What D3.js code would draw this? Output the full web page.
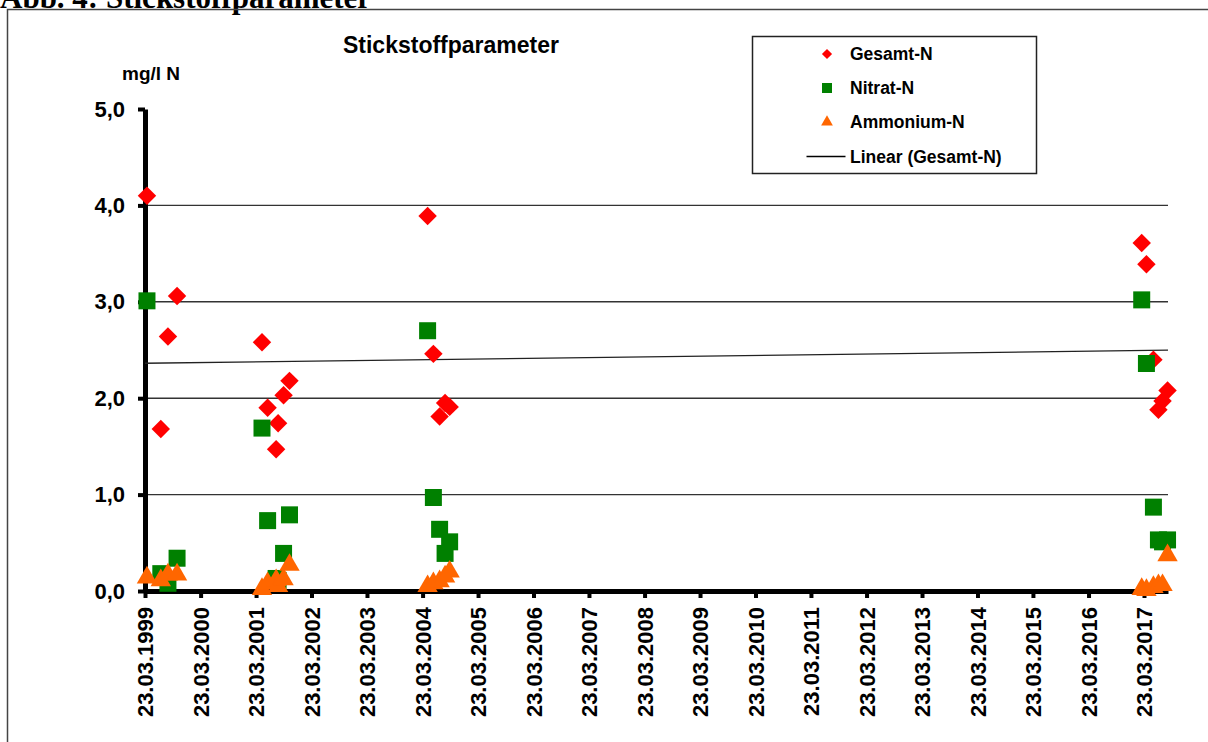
<!DOCTYPE html>
<html>
<head>
<meta charset="utf-8">
<script src="https://cdn.jsdelivr.net/npm/d3@7"></script>
<style>
  body { margin: 0; background: #fff; }
  svg text { font-family: "Liberation Sans", Arial, sans-serif; font-weight: bold; }
</style>
</head>
<body>
<div id="chart"></div>
<script>
// sampling dates (yyyy-mm-dd)
var sampleDates = [
  "1999-04-05", "1999-07-05", "1999-08-21", "1999-10-20",
  "2001-05-01", "2001-06-07", "2001-08-02", "2001-08-15", "2001-09-20", "2001-10-29",
  "2004-04-25", "2004-06-02", "2004-07-13", "2004-08-18", "2004-09-17",
  "2017-03-08", "2017-04-08", "2017-05-24", "2017-06-26", "2017-07-23", "2017-08-25"
];

// mg/l N
var gesamtN = [
  4.10, 1.68, 2.64, 3.06,
  2.58, 1.90, 1.47, 1.74, 2.03, 2.18,
  3.89, 2.46, 1.81, 1.95, 1.91,
  3.61, 3.39, 2.40, 1.88, 1.97, 2.08
];
var nitratN = [
  3.01, 0.18, 0.08, 0.34,
  1.69, 0.73, 0.13, 0.11, 0.39, 0.79,
  2.70, 0.97, 0.64, 0.39, 0.51,
  3.02, 2.36, 0.87, 0.53, 0.51, 0.53
];
var ammoniumN = [
  0.14, 0.11, 0.17, 0.17,
  0.02, 0.08, 0.11, 0.05, 0.12, 0.27,
  0.05, 0.08, 0.10, 0.15, 0.20,
  0.02, 0.01, 0.04, 0.06, 0.06, 0.37
];

var yTicks = [0, 1, 2, 3, 4, 5];
var xTickLabels = [
  "23.03.1999", "23.03.2000", "23.03.2001", "23.03.2002", "23.03.2003",
  "23.03.2004", "23.03.2005", "23.03.2006", "23.03.2007", "23.03.2008",
  "23.03.2009", "23.03.2010", "23.03.2011", "23.03.2012", "23.03.2013",
  "23.03.2014", "23.03.2015", "23.03.2016", "23.03.2017"
];
var axisStart = "23.03.1999", axisEnd = "28.08.2017";

(function(){
  var width = 1208, height = 742;
  var parseIso = d3.timeParse("%Y-%m-%d");
  var parseDe = d3.timeParse("%d.%m.%Y");
  var fmtDe = d3.timeFormat("%d.%m.%Y");

  var svg = d3.select("#chart").append("svg")
      .attr("width", width)
      .attr("height", height);

  // page heading, cut off at the top like in the scan
  svg.append("text")
      .attr("x", 0).attr("y", 8)
      .style("font-family", "'Liberation Serif', 'Times New Roman', serif")
      .style("font-size", "31px")
      .text("Abb. 4: Stickstoffparameter");

  // chart frame
  svg.append("rect")
      .attr("x", 7.5).attr("y", 9.5)
      .attr("width", 1300).attr("height", 800)
      .attr("fill", "none")
      .attr("stroke", "#444")
      .attr("stroke-width", 1.5);

  var x = d3.scaleTime()
      .domain([parseDe(axisStart), parseDe(axisEnd)])
      .range([145, 1168]);
  var y = d3.scaleLinear()
      .domain([0, 5])
      .range([591, 109]);

  svg.append("text")
      .attr("x", 451).attr("y", 53)
      .attr("text-anchor", "middle")
      .style("font-size", "23px")
      .text("Stickstoffparameter");

  svg.append("text")
      .attr("x", 122).attr("y", 80)
      .style("font-size", "19px")
      .text("mg/l N");

  // gridlines
  svg.append("g").selectAll("line")
      .data(yTicks.filter(function(d){ return d > 0 && d < 5; }))
      .enter().append("line")
      .attr("x1", x.range()[0]).attr("x2", x.range()[1])
      .attr("y1", function(d){ return y(d); })
      .attr("y2", function(d){ return y(d); })
      .attr("stroke", "#333")
      .attr("stroke-width", 1.4);

  // y axis
  var yAxis = svg.append("g")
      .attr("transform", "translate(145,0)")
      .call(d3.axisLeft(y)
          .tickValues(yTicks)
          .tickSize(7)
          .tickSizeOuter(0)
          .tickPadding(13)
          .tickFormat(function(d){ return d3.format(".1f")(d).replace(".", ","); }));
  yAxis.select(".domain").attr("stroke", "#000").attr("stroke-width", 5);
  yAxis.selectAll(".tick line").attr("stroke", "#000").attr("stroke-width", 4);
  yAxis.selectAll("text")
      .attr("fill", "#000")
      .style("font-size", "22px");

  // x axis
  var xAxis = svg.append("g")
      .attr("transform", "translate(0,591)")
      .call(d3.axisBottom(x)
          .tickValues(xTickLabels.map(function(s){ return parseDe(s); }))
          .tickSize(7)
          .tickSizeOuter(0)
          .tickFormat(fmtDe));
  xAxis.select(".domain").attr("stroke", "#000").attr("stroke-width", 5);
  xAxis.selectAll(".tick line").attr("stroke", "#000").attr("stroke-width", 4);
  xAxis.selectAll("text")
      .attr("fill", "#000")
      .attr("transform", "rotate(-90)")
      .attr("text-anchor", "end")
      .attr("x", -16)
      .attr("y", 0)
      .attr("dy", "0.36em")
      .style("font-size", "22px");

  // linear trend of Gesamt-N (least squares over time)
  var pts = sampleDates.map(function(d, i){ return [parseIso(d).getTime(), gesamtN[i]]; });
  var mx = d3.mean(pts, function(p){ return p[0]; });
  var my = d3.mean(pts, function(p){ return p[1]; });
  var sxy = d3.sum(pts, function(p){ return (p[0] - mx) * (p[1] - my); });
  var sxx = d3.sum(pts, function(p){ return (p[0] - mx) * (p[0] - mx); });
  var slope = sxy / sxx, icpt = my - slope * mx;
  svg.append("path")
      .datum(x.domain())
      .attr("fill", "none")
      .attr("stroke", "#222")
      .attr("stroke-width", 1.3)
      .attr("d", d3.line()
          .x(function(d){ return x(d); })
          .y(function(d){ return y(icpt + slope * d.getTime()); }));

  var series = [
    { name: "Gesamt-N", values: gesamtN, color: "#ff0000", type: d3.symbolSquare, size: 170, rot: 45, lsize: 52 },
    { name: "Nitrat-N", values: nitratN, color: "#008000", type: d3.symbolSquare, size: 289, rot: 0, lsize: 100 },
    { name: "Ammonium-N", values: ammoniumN, color: "#ff6600", type: d3.symbolTriangle, size: 180, rot: 0, lsize: 60 }
  ];

  series.forEach(function(s){
    svg.append("g").selectAll("path")
        .data(sampleDates)
        .enter().append("path")
        .attr("d", d3.symbol().type(s.type).size(s.size))
        .attr("fill", s.color)
        .attr("transform", function(d, i){
          return "translate(" + x(parseIso(d)) + "," + y(s.values[i]) + ") rotate(" + s.rot + ")";
        });
  });

  // legend
  var legend = svg.append("g").attr("transform", "translate(752.5,36.5)");
  legend.append("rect")
      .attr("width", 284).attr("height", 137)
      .attr("fill", "#fff")
      .attr("stroke", "#222")
      .attr("stroke-width", 1.5);

  var itemY = [17.5, 51.5, 85.5, 120];
  series.forEach(function(s, i){
    legend.append("path")
        .attr("d", d3.symbol().type(s.type).size(s.lsize))
        .attr("fill", s.color)
        .attr("transform", "translate(74.5," + itemY[i] + ") rotate(" + s.rot + ")");
    legend.append("text")
        .attr("x", 97.5).attr("y", itemY[i] + 6)
        .style("font-size", "17.5px")
        .text(s.name);
  });
  legend.append("line")
      .attr("x1", 54).attr("x2", 93)
      .attr("y1", itemY[3]).attr("y2", itemY[3])
      .attr("stroke", "#000")
      .attr("stroke-width", 1.3);
  legend.append("text")
      .attr("x", 97.5).attr("y", itemY[3] + 6)
      .style("font-size", "17.5px")
      .text("Linear (Gesamt-N)");
})();
</script>
</body>
</html>
